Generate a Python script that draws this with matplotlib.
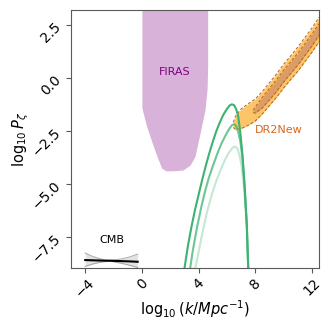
import matplotlib
matplotlib.use("Agg")
import matplotlib.pyplot as plt

# FIRAS exclusion: lower boundary of the excluded region (log10 k, log10 P)
firas_k = [0.0, 0.3, 0.7, 1.1, 1.4, 1.7, 2.2, 2.9, 3.4, 3.74, 4.1, 4.45, 4.6, 4.64]
firas_lo = [-1.4, -2.2, -3.0, -3.75, -4.25, -4.37, -4.37, -4.33, -4.1, -3.7, -2.6, -1.5, -0.5, 0.55]

# DR2New contours (outer and inner)
dr2_k = [6.45, 6.6, 7.0, 7.5, 8.0, 8.5, 9.0, 9.5, 10.0, 10.5, 11.0, 11.5, 12.0, 12.5]
dr2_hi = [-2.08, -1.8, -1.45, -1.2, -0.98, -0.62, -0.21, 0.2, 0.66, 1.06, 1.47, 1.92, 2.37, 2.88]
dr2_lo = [-2.32, -2.42, -2.38, -2.22, -2.02, -1.68, -1.29, -0.9, -0.46, -0.06, 0.33, 0.78, 1.23, 1.72]
dr2_in_k = [7.85, 8.0, 8.5, 9.0, 9.5, 10.0, 10.5, 11.0, 11.5, 12.0, 12.5]
dr2_in_hi = [-1.51, -1.35, -0.9, -0.48, -0.07, 0.38, 0.78, 1.18, 1.63, 2.08, 2.58]
dr2_in_lo = [-1.61, -1.65, -1.4, -1.02, -0.63, -0.18, 0.22, 0.62, 1.07, 1.52, 2.02]

# peaked spectra
peak1_k = [2.95, 3.25, 3.5, 3.75, 4.0, 4.25, 4.5, 4.75, 5.0, 5.25, 5.5, 5.75, 6.0, 6.2,
           6.35, 6.5, 6.65, 6.8, 6.95, 7.1, 7.25, 7.4, 7.5, 7.53]
peak1_p = [-9.2, -7.9, -7.0, -6.2, -5.5, -4.8, -4.15, -3.55, -3.0, -2.5, -2.08, -1.72, -1.45, -1.28,
           -1.23, -1.27, -1.45, -1.82, -2.6, -3.65, -5.1, -6.9, -8.9, -9.3]
peak2_k = [3.35, 3.6, 3.9, 4.2, 4.45, 4.7, 5.0, 5.3, 5.6, 5.9, 6.15, 6.35, 6.5, 6.65,
           6.8, 6.95, 7.1, 7.25, 7.4, 7.5, 7.53]
peak2_p = [-9.2, -8.1, -7.0, -6.05, -5.35, -4.75, -4.15, -3.6, -3.1, -2.7, -2.4, -2.22, -2.17, -2.25,
           -2.55, -3.0, -3.8, -5.15, -6.9, -8.9, -9.3]
peak3_k = [3.7, 4.0, 4.3, 4.6, 4.95, 5.27, 5.6, 5.9, 6.15, 6.4, 6.56, 6.72, 6.88, 7.02,
           7.15, 7.28, 7.4, 7.5, 7.53]
peak3_p = [-9.2, -8.2, -7.2, -6.3, -5.45, -4.8, -4.25, -3.8, -3.5, -3.28, -3.22, -3.3, -3.6, -4.1,
           -4.8, -5.8, -7.0, -8.9, -9.3]

# CMB amplitude with bow-tie uncertainty
cmb_k = [-4.0, -3.5, -3.0, -2.6, -2.26, -1.9, -1.4, -0.9, -0.3]
cmb_p = [-8.58, -8.59, -8.6, -8.61, -8.61, -8.62, -8.63, -8.64, -8.66]
cmb_hi = [-8.25, -8.4, -8.51, -8.57, -8.59, -8.57, -8.52, -8.44, -8.3]
cmb_lo = [-8.88, -8.77, -8.69, -8.65, -8.63, -8.67, -8.74, -8.82, -8.93]

fig = plt.figure(figsize=(3.32, 3.32), dpi=100)
ax = fig.add_axes([0.214, 0.193, 0.747, 0.777])

ax.fill_between(firas_k, firas_lo, 10, color="purple", alpha=0.3, lw=0)
ax.text(2.33, 0.28, "FIRAS", color="purple", fontsize=8, ha="center", va="center")

ax.fill_between(dr2_k, dr2_lo, dr2_hi, color="#fdc56a", lw=0)
ax.fill_between(dr2_in_k, dr2_in_lo, dr2_in_hi, color="#dc9c66", lw=0)
for xs, ys in [(dr2_k, dr2_hi), (dr2_k, dr2_lo), (dr2_in_k, dr2_in_hi), (dr2_in_k, dr2_in_lo)]:
    ax.plot(xs, ys, ls="--", lw=0.7, color="#b5651d", dashes=(3, 2))
ax.text(9.69, -2.44, "DR2New", color="#d8651a", fontsize=8, ha="center", va="center")

ax.plot(peak1_k, peak1_p, color="mediumseagreen", lw=1.5)
ax.plot(peak2_k, peak2_p, color="mediumseagreen", lw=1.5, alpha=0.75)
ax.plot(peak3_k, peak3_p, color="mediumseagreen", lw=1.5, alpha=0.3)

ax.fill_between(cmb_k, cmb_lo, cmb_hi, color="gray", alpha=0.22, lw=0)
ax.plot(cmb_k, cmb_hi, color="gray", lw=0.8, alpha=0.6)
ax.plot(cmb_k, cmb_lo, color="gray", lw=0.8, alpha=0.6)
ax.plot(cmb_k, cmb_p, color="black", lw=1.5)
ax.text(-2.14, -7.63, "CMB", color="black", fontsize=8, ha="center", va="center")

ax.set_xlim(-5, 12.5)
ax.set_ylim(-8.95, 3.22)
ax.set_xticks([-4, 0, 4, 8, 12])
ax.set_yticks([2.5, 0.0, -2.5, -5.0, -7.5])
ax.tick_params(axis="both", labelsize=10, labelrotation=45, color="0.35", pad=2)
for sp in ax.spines.values():
    sp.set_color("0.35")
ax.set_xlabel(r"$\log_{10}(k/Mpc^{-1})$", fontsize=10.5, labelpad=-1)
ax.set_ylabel(r"$\log_{10}P_\zeta$", fontsize=10.5, labelpad=-1)

fig.savefig("out.png", dpi=100)
